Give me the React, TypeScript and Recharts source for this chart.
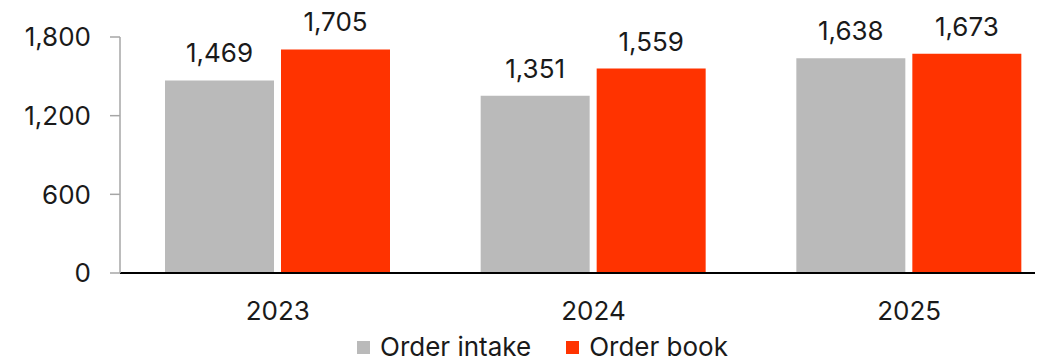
import { BarChart, Bar, XAxis, YAxis, LabelList, Legend } from 'recharts';

const years = ['2023', '2024', '2025'];
const orderIntake = [1469, 1351, 1638];
const orderBook = [1705, 1559, 1673];
const yTicks = [0, 600, 1200, 1800];
const seriesNames = ['Order intake', 'Order book'];

const data = years.map((year, i) => ({
  year,
  intake: orderIntake[i],
  book: orderBook[i],
}));

const TEXT = '#1a1a1a';
const FONT = 'Inter, "Noto Sans", sans-serif';

const fmt = (v: number) => v.toLocaleString('en-US');

// square legend, kept in series order (recharts sorts by name otherwise)
const renderLegend = (props: any) => {
  const items = [...(props.payload || [])].sort(
    (a: any, b: any) => seriesNames.indexOf(a.value) - seriesNames.indexOf(b.value)
  );
  return (
    <div
      style={{
        height: 30,
        boxSizing: 'border-box',
        paddingTop: 6,
        paddingLeft: 349,
        display: 'flex',
        alignItems: 'center',
        fontSize: 26,
        color: TEXT,
        fontFamily: FONT,
      }}
    >
      {items.map((entry: any, i: number) => (
        <span
          key={entry.value}
          style={{ display: 'flex', alignItems: 'center', marginRight: i === 0 ? 35 : 0 }}
        >
          <span
            style={{ width: 13, height: 13, background: entry.color, marginRight: 10, display: 'inline-block' }}
          />
          <span style={{ lineHeight: '28px', whiteSpace: 'nowrap' }}>{entry.value}</span>
        </span>
      ))}
    </div>
  );
};

export default function App() {
  return (
    <div style={{ width: 1035, height: 351, fontFamily: FONT }}>
      <BarChart
        width={1035}
        height={351}
        data={data}
        margin={{ top: 29, right: 5, left: 0, bottom: 0 }}
        barCategoryGap={45}
        barGap={7}
        style={{ overflow: 'visible' }}
      >
        <XAxis
          dataKey="year"
          height={56}
          padding={{ left: 0, right: -29 }}
          axisLine={{ stroke: '#000', strokeWidth: 2 }}
          tickLine={false}
          tickSize={0}
          tickMargin={29}
          tick={{ fill: TEXT, fontSize: 26 }}
        />
        <YAxis
          width={112}
          domain={[0, 1800]}
          ticks={yTicks}
          interval={0}
          tickFormatter={fmt}
          axisLine={{ stroke: '#a6a6a6', strokeWidth: 1.5 }}
          tickLine={{ stroke: '#a6a6a6', strokeWidth: 1.5 }}
          tickSize={10}
          tickMargin={19}
          tick={{ fill: TEXT, fontSize: 26 }}
        />
        <Legend verticalAlign="bottom" content={renderLegend} />
        <Bar dataKey="intake" name={seriesNames[0]} fill="#bababa" isAnimationActive={false}>
          <LabelList dataKey="intake" position="top" offset={18} formatter={fmt} fill={TEXT} fontSize={26} />
        </Bar>
        <Bar dataKey="book" name={seriesNames[1]} fill="#ff3300" isAnimationActive={false}>
          <LabelList dataKey="book" position="top" offset={18} formatter={fmt} fill={TEXT} fontSize={26} />
        </Bar>
      </BarChart>
    </div>
  );
}
